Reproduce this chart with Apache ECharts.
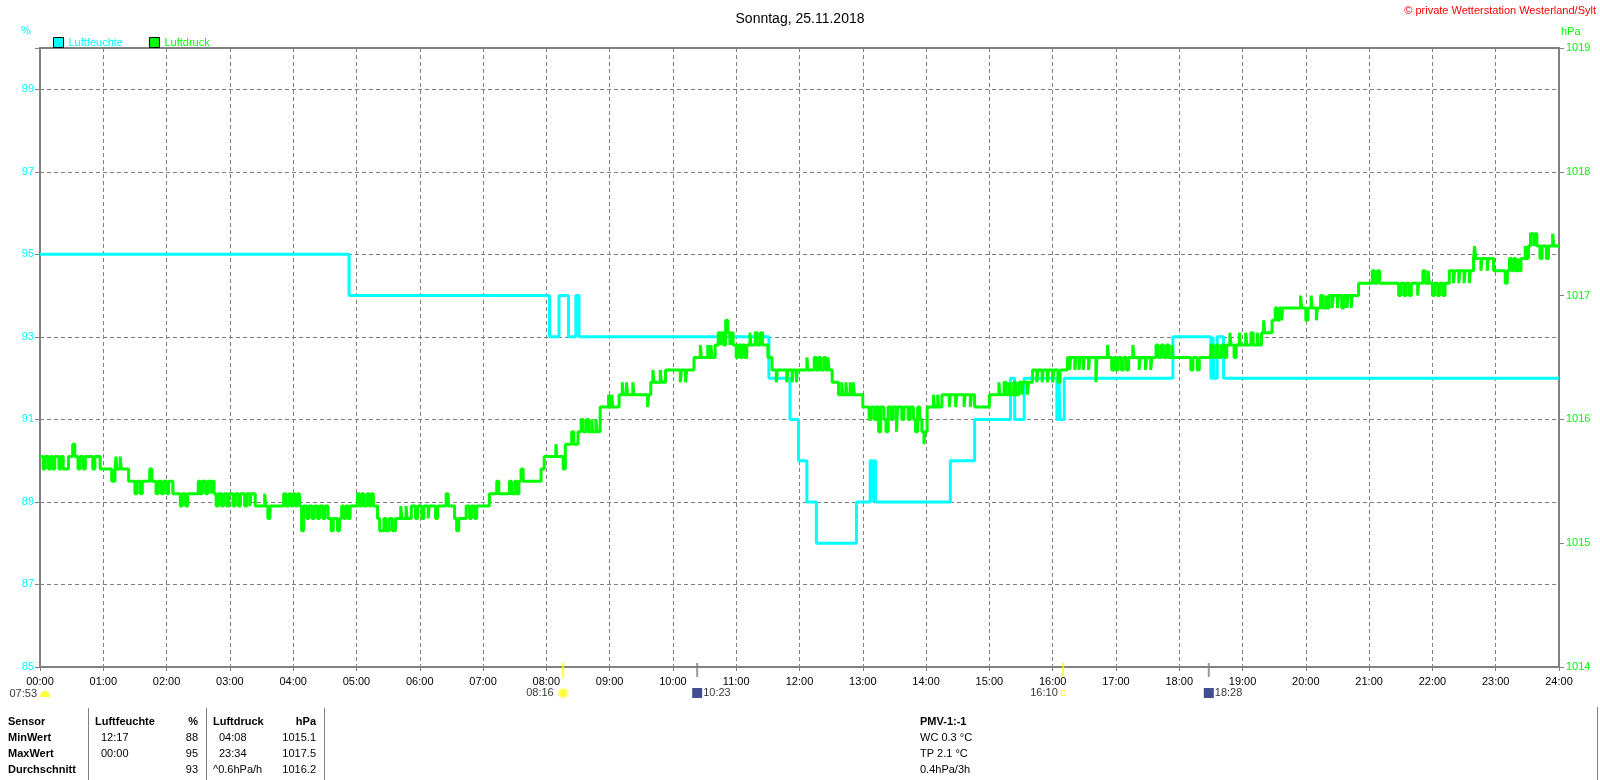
<!DOCTYPE html>
<html><head><meta charset="utf-8">
<script src="https://cdn.jsdelivr.net/npm/echarts@6/dist/echarts.min.js"></script>
<style>html,body{margin:0;padding:0;background:#fff}#c{width:1600px;height:780px}</style>
</head><body><div id="c"></div>
<script>
// ---- data (time in minutes since 00:00) ----
const hourTicks = [0,60,120,180,240,300,360,420,480,540,600,660,720,780,840,900,960,1020,1080,1140,1200,1260,1320,1380,1440];
const humMin = [0,293,483,492,501,508,511,691,711,719,727,736,774,787,789,790,792,863,886,920,924,933,964,966,967,971,1074,1110,1112,1113,1116,1122,1440];
const humVal = [95,94,93,94,93,94,93,92,91,90,89,88,89,90,89,90,89,90,91,92,91,92,91,92,91,92,93,92,93,92,93,92,92];
const presMin = [0,3,5,8,10,12,14,18,20,22,27,31,33,36,38,41,43,50,52,57,68,71,72,73,76,77,84,90,92,95,97,104,106,110,112,115,117,120,122,126,133,135,138,140,150,152,154,157,159,162,163,165,167,169,172,174,177,179,183,185,188,190,194,196,199,200,204,213,214,216,218,231,233,236,238,240,242,244,246,248,250,253,255,258,260,263,265,268,270,273,276,278,282,284,286,288,290,292,294,301,303,305,307,310,312,314,316,320,322,326,328,331,334,337,342,343,347,348,352,356,358,362,364,368,369,375,377,385,387,393,395,397,404,407,409,412,414,426,433,435,445,447,450,452,454,456,458,475,478,489,490,496,498,504,506,510,513,515,518,520,523,524,527,528,531,539,540,542,543,549,552,553,556,557,562,563,576,577,579,581,582,588,589,593,607,608,612,613,620,626,627,633,634,636,637,640,643,645,646,648,650,652,654,655,657,660,662,664,666,668,670,673,674,678,680,683,685,690,694,698,699,708,709,713,714,717,718,727,728,734,736,738,740,743,745,747,748,751,757,760,761,764,765,768,769,771,772,780,786,788,791,793,795,797,800,802,804,807,809,812,813,817,819,823,825,828,830,832,834,836,838,839,841,847,848,851,852,855,862,863,868,869,876,877,882,883,886,900,909,910,914,916,919,920,923,925,928,931,932,936,937,941,945,946,950,951,955,956,960,961,965,967,974,976,977,981,982,985,986,989,990,994,995,1001,1002,1012,1013,1016,1018,1020,1022,1025,1027,1030,1032,1036,1037,1042,1043,1048,1049,1053,1054,1058,1060,1063,1065,1068,1070,1073,1074,1091,1093,1097,1099,1110,1112,1115,1117,1120,1123,1125,1128,1129,1132,1134,1137,1138,1143,1144,1148,1150,1154,1155,1158,1160,1161,1168,1171,1173,1175,1177,1178,1195,1196,1200,1202,1205,1206,1210,1211,1214,1216,1219,1220,1222,1225,1226,1230,1231,1234,1236,1239,1240,1243,1244,1250,1263,1265,1268,1270,1288,1290,1293,1295,1298,1300,1306,1307,1311,1313,1316,1317,1320,1322,1325,1327,1330,1332,1336,1340,1341,1345,1346,1350,1351,1355,1356,1359,1360,1361,1366,1367,1372,1373,1378,1389,1391,1393,1395,1397,1399,1401,1402,1404,1408,1409,1411,1413,1416,1417,1419,1422,1424,1428,1430,1434,1435,1440];
const presVal = [1015.7,1015.6,1015.7,1015.6,1015.7,1015.6,1015.7,1015.6,1015.7,1015.6,1015.7,1015.8,1015.7,1015.6,1015.7,1015.6,1015.7,1015.6,1015.7,1015.6,1015.5,1015.6,1015.7,1015.6,1015.7,1015.6,1015.5,1015.4,1015.5,1015.4,1015.5,1015.6,1015.5,1015.4,1015.5,1015.4,1015.5,1015.4,1015.5,1015.4,1015.3,1015.4,1015.3,1015.4,1015.5,1015.4,1015.5,1015.4,1015.5,1015.4,1015.5,1015.4,1015.3,1015.4,1015.3,1015.4,1015.3,1015.4,1015.3,1015.4,1015.3,1015.4,1015.3,1015.4,1015.3,1015.4,1015.3,1015.4,1015.3,1015.2,1015.3,1015.4,1015.3,1015.4,1015.3,1015.4,1015.3,1015.4,1015.3,1015.1,1015.3,1015.2,1015.3,1015.2,1015.3,1015.2,1015.3,1015.2,1015.3,1015.2,1015.1,1015.2,1015.1,1015.2,1015.3,1015.2,1015.3,1015.2,1015.3,1015.4,1015.3,1015.4,1015.3,1015.4,1015.3,1015.4,1015.3,1015.2,1015.1,1015.2,1015.1,1015.2,1015.1,1015.2,1015.3,1015.2,1015.3,1015.2,1015.3,1015.2,1015.3,1015.2,1015.3,1015.2,1015.3,1015.2,1015.3,1015.4,1015.3,1015.2,1015.1,1015.2,1015.3,1015.2,1015.3,1015.2,1015.3,1015.4,1015.5,1015.4,1015.5,1015.4,1015.5,1015.4,1015.5,1015.6,1015.5,1015.6,1015.7,1015.8,1015.7,1015.6,1015.8,1015.9,1015.8,1015.9,1016.0,1015.9,1016.0,1015.9,1016.0,1015.9,1016.0,1015.9,1016.1,1016.2,1016.1,1016.2,1016.1,1016.2,1016.3,1016.2,1016.3,1016.2,1016.3,1016.2,1016.1,1016.2,1016.3,1016.4,1016.3,1016.4,1016.3,1016.4,1016.3,1016.4,1016.3,1016.4,1016.5,1016.6,1016.5,1016.6,1016.5,1016.6,1016.5,1016.6,1016.7,1016.6,1016.7,1016.6,1016.8,1016.7,1016.6,1016.7,1016.6,1016.5,1016.6,1016.5,1016.6,1016.5,1016.6,1016.7,1016.6,1016.7,1016.6,1016.7,1016.6,1016.5,1016.4,1016.3,1016.4,1016.3,1016.4,1016.3,1016.4,1016.3,1016.4,1016.5,1016.4,1016.5,1016.4,1016.5,1016.4,1016.5,1016.4,1016.5,1016.4,1016.3,1016.2,1016.3,1016.2,1016.3,1016.2,1016.3,1016.2,1016.3,1016.2,1016.1,1016.0,1016.1,1016.0,1016.1,1015.9,1016.1,1016.0,1015.9,1016.1,1016.0,1016.1,1015.9,1016.1,1016.0,1016.1,1016.0,1016.1,1016.0,1015.9,1016.1,1016.0,1015.9,1015.8,1015.9,1016.1,1016.2,1016.1,1016.2,1016.1,1016.2,1016.1,1016.2,1016.1,1016.2,1016.1,1016.2,1016.1,1016.2,1016.1,1016.2,1016.3,1016.2,1016.3,1016.2,1016.3,1016.2,1016.3,1016.2,1016.3,1016.2,1016.3,1016.2,1016.3,1016.4,1016.3,1016.4,1016.3,1016.4,1016.3,1016.4,1016.3,1016.4,1016.3,1016.4,1016.5,1016.4,1016.5,1016.4,1016.5,1016.4,1016.5,1016.4,1016.5,1016.4,1016.5,1016.3,1016.5,1016.6,1016.5,1016.4,1016.5,1016.4,1016.5,1016.4,1016.5,1016.4,1016.5,1016.6,1016.5,1016.4,1016.5,1016.4,1016.5,1016.4,1016.5,1016.6,1016.5,1016.6,1016.5,1016.6,1016.5,1016.6,1016.5,1016.4,1016.5,1016.4,1016.5,1016.6,1016.5,1016.6,1016.5,1016.6,1016.5,1016.6,1016.7,1016.6,1016.5,1016.6,1016.7,1016.6,1016.7,1016.6,1016.7,1016.6,1016.7,1016.6,1016.7,1016.8,1016.7,1016.8,1016.9,1016.8,1016.9,1016.8,1016.9,1017.0,1016.9,1016.8,1016.9,1017.0,1016.9,1016.8,1016.9,1017.0,1016.9,1017.0,1016.9,1017.0,1016.9,1017.0,1016.9,1017.0,1016.9,1017.0,1016.9,1017.0,1016.9,1017.0,1017.1,1017.2,1017.1,1017.2,1017.1,1017.0,1017.1,1017.0,1017.1,1017.0,1017.1,1017.0,1017.1,1017.2,1017.1,1017.2,1017.1,1017.0,1017.1,1017.0,1017.1,1017.0,1017.1,1017.2,1017.1,1017.2,1017.1,1017.2,1017.1,1017.2,1017.1,1017.2,1017.3,1017.4,1017.3,1017.2,1017.3,1017.2,1017.3,1017.2,1017.1,1017.2,1017.3,1017.2,1017.3,1017.2,1017.3,1017.2,1017.3,1017.4,1017.3,1017.4,1017.5,1017.4,1017.5,1017.4,1017.3,1017.4,1017.3,1017.4,1017.5,1017.4,1017.4];
// sun / moon events
const sunTicks = [496, 970];          // 08:16, 16:10
const moonTicks = [623, 1108];        // 10:23, 18:28
const eventLabels = ['07:53','08:16','10:23','16:10','18:28'];
// table
const tableRows = ['Sensor','MinWert','MaxWert','Durchschnitt'];
const humCol = ['Luftfeuchte','12:17','00:00',''];
const humUnitCol = ['%','88','95','93'];
const presCol = ['Luftdruck','04:08','23:34','^0.6hPa/h'];
const presUnitCol = ['hPa','1015.1','1017.5','1016.2'];
const pmvCol = ['PMV-1:-1','WC 0.3 °C','TP 2.1 °C','0.4hPa/3h'];

const humData = humMin.map((m,i)=>[m,humVal[i]]);
const presData = presMin.map((m,i)=>[m,presVal[i]]);
const FONT = 'Liberation Sans, Arial, sans-serif';
const pad = v => String(v).padStart(2,'0');

const chart = echarts.init(document.getElementById('c'), null, {renderer:'canvas'});
const rowY = [722,738,754,770];
const g = [];
g.push({type:'text', left:21, top:25, style:{text:'%', fill:'#00FFFF', font:'11px '+FONT}});
g.push({type:'text', left:1561, top:26, style:{text:'hPa', fill:'#00FF00', font:'11px '+FONT}});
g.push({type:'text', right:4, top:5, style:{text:'© private Wetterstation Westerland/Sylt', fill:'#FF0000', font:'11px '+FONT}});
rowY.forEach((y,i)=>{
  const b = i===0 ? 'bold ' : '';
  g.push({type:'text', x:8, y:y, style:{text:tableRows[i], fill:'#000', font:'bold 11px '+FONT, verticalAlign:'middle'}});
  g.push({type:'text', x:i===0?95:101, y:y, style:{text:humCol[i], fill:'#000', font:b+'11px '+FONT, verticalAlign:'middle'}});
  g.push({type:'text', x:198, y:y, style:{text:humUnitCol[i], fill:'#000', font:b+'11px '+FONT, align:'right', verticalAlign:'middle'}});
  g.push({type:'text', x:(i===0||i===3)?213:219, y:y, style:{text:presCol[i], fill:'#000', font:b+'11px '+FONT, verticalAlign:'middle'}});
  g.push({type:'text', x:316, y:y, style:{text:presUnitCol[i], fill:'#000', font:b+'11px '+FONT, align:'right', verticalAlign:'middle'}});
  g.push({type:'text', x:920, y:y, style:{text:pmvCol[i], fill:'#000', font:b+'11px '+FONT, verticalAlign:'middle'}});
});
[88,206,324].forEach(x=>g.push({type:'line', shape:{x1:x+0.5,y1:708,x2:x+0.5,y2:780}, style:{stroke:'#808080', lineWidth:1}}));
g.push({type:'line', shape:{x1:1597.5,y1:707,x2:1597.5,y2:780}, style:{stroke:'#808080', lineWidth:1}});

const iconLabel = {show:true, color:'#000', fontFamily:FONT, fontSize:11};
chart.setOption({
  animation:false,
  backgroundColor:'#fff',
  title:{text:'Sonntag, 25.11.2018', left:'center', top:7, textStyle:{fontFamily:FONT, fontSize:14, fontWeight:'normal', color:'#000'}},
  legend:{left:48, top:32, itemWidth:10, itemHeight:10, itemGap:26, icon:'rect',
    itemStyle:{borderColor:'#000', borderWidth:1},
    textStyle:{fontFamily:FONT, fontSize:11},
    data:[{name:'Luftfeuchte', textStyle:{color:'#00FFFF'}},{name:'Luftdruck', textStyle:{color:'#00FF00'}}]},
  grid:{left:40, right:41, top:48, bottom:113, show:true, borderColor:'#808080', borderWidth:2, backgroundColor:'#fff'},
  xAxis:{type:'value', min:0, max:1440, interval:60,
    axisLine:{show:false}, axisTick:{show:true, length:4, lineStyle:{color:'#808080'}},
    axisLabel:{margin:9, color:'#000', fontFamily:FONT, fontSize:11, formatter:v=>pad(v/60)+':00'},
    splitLine:{show:true, lineStyle:{color:'#808080', type:[4,3], width:1}}},
  yAxis:[
    {type:'value', min:85, max:100, interval:2, position:'left',
      axisLine:{show:false}, axisTick:{show:true, length:5, lineStyle:{color:'#808080'}},
      axisLabel:{margin:6, color:'#00FFFF', fontFamily:FONT, fontSize:11, formatter:v=> v===100?'':String(v)},
      splitLine:{show:true, lineStyle:{color:'#808080', type:[4,3], width:1}}},
    {type:'value', min:1014, max:1019, interval:1, position:'right',
      axisLine:{show:false}, axisTick:{show:true, length:5, lineStyle:{color:'#808080'}},
      axisLabel:{margin:7, color:'#00FF00', fontFamily:FONT, fontSize:11, formatter:v=>String(v)},
      splitLine:{show:false}}
  ],
  series:[
    {name:'Luftfeuchte', type:'line', step:'end', yAxisIndex:0, data:humData, showSymbol:false, symbol:'none',
      color:'#00FFFF', lineStyle:{color:'#00FFFF', width:3}, itemStyle:{color:'#00FFFF'}},
    {name:'Luftdruck', type:'line', step:'end', yAxisIndex:1, data:presData, showSymbol:false, symbol:'none',
      color:'#00FF00', lineStyle:{color:'#00FF00', width:3}, itemStyle:{color:'#00FF00'}},
    {type:'scatter', yAxisIndex:0, clip:false, symbol:'rect', symbolSize:[2,14], symbolOffset:[0,3], silent:true,
      data:sunTicks.map(t=>[t,85]), itemStyle:{color:'#FFFF00'}, z:5},
    {type:'scatter', yAxisIndex:0, clip:false, symbol:'rect', symbolSize:[2,14], symbolOffset:[0,3], silent:true,
      data:moonTicks.map(t=>[t,85]), itemStyle:{color:'#808080'}, z:5},
    // icons with labels
    {type:'scatter', yAxisIndex:0, clip:false, silent:true, z:6, symbolOffset:[0,26],
      data:[
        {value:[0,85], symbol:'path://M0,10 A10,10 0 0,1 20,10 Z', symbolSize:[10,6], symbolOffset:[5,27],
          itemStyle:{color:'#FFFF00'}, label:Object.assign({position:'left', distance:3, formatter:eventLabels[0]}, iconLabel)},
        {value:[sunTicks[0],85], symbol:'circle', symbolSize:9,
          itemStyle:{color:'#FFFF00', borderColor:'#FFFF99', borderWidth:2}, label:Object.assign({position:'left', distance:4, formatter:eventLabels[1]}, iconLabel)},
        {value:[moonTicks[0],85], symbol:'rect', symbolSize:[10,10],
          itemStyle:{color:'#14207A'}, label:Object.assign({position:'right', distance:1, formatter:eventLabels[2]}, iconLabel)},
        {value:[sunTicks[1],85], symbol:'rect', symbolSize:[4,5],
          itemStyle:{color:'#FFFFFF', borderColor:'#FFFF00', borderWidth:1}, label:Object.assign({position:'left', distance:3, formatter:eventLabels[3]}, iconLabel)},
        {value:[moonTicks[1],85], symbol:'rect', symbolSize:[10,10],
          itemStyle:{color:'#14207A'}, label:Object.assign({position:'right', distance:1, formatter:eventLabels[4]}, iconLabel)}
      ]}
  ],
  graphic:g
});
</script></body></html>
